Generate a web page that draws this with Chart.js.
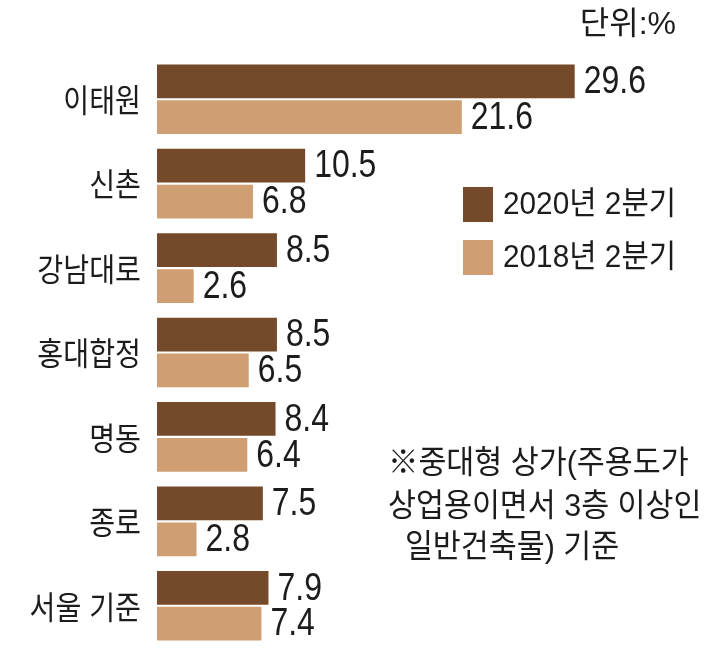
<!DOCTYPE html>
<html>
<head>
<meta charset="utf-8">
<script src="https://cdn.jsdelivr.net/npm/chart.js@4"></script>
<style>
  body { margin: 0; background: #fff; }
  #wrap { width: 712px; height: 648px; }
</style>
</head>
<body>
<div id="wrap"><canvas id="chart" width="712" height="648"></canvas></div>
<script>
// Chart data
const areas = ['이태원', '신촌', '강남대로', '홍대합정', '명동', '종로', '서울 기준'];
const seriesNames = ['2020년 2분기', '2018년 2분기'];
const vacancy2020 = [29.6, 10.5, 8.5, 8.5, 8.4, 7.5, 7.9];
const vacancy2018 = [21.6, 6.8, 2.6, 6.5, 6.4, 2.8, 7.4];
const unitText = '단위:%';
const noteLines = ['※중대형 상가(주용도가', '상업용이면서 3층 이상인', '  일반건축물) 기준'];

const darkBrown = '#744a2a';
const lightTan = '#cf9e72';
const textColor = '#1c1c1c';

// Draw text squeezed horizontally (the original uses a condensed face)
function drawText(ctx, text, x, y, size, sx, align) {
  ctx.save();
  ctx.font = size + 'px "Liberation Sans", "Noto Sans CJK KR", sans-serif';
  ctx.fillStyle = textColor;
  ctx.textBaseline = 'middle';
  ctx.textAlign = align;
  ctx.translate(x, y);
  ctx.scale(sx, 1);
  ctx.fillText(text, 0, 0);
  ctx.restore();
}

// Category labels, value labels, legend, unit and footnote
const labelPlugin = {
  id: 'labelPlugin',
  afterDatasetsDraw(chart) {
    const ctx = chart.ctx;
    const yScale = chart.scales.y;

    chart.data.labels.forEach(function (label, i) {
      drawText(ctx, label, 141, yScale.getPixelForValue(i) + 4, 32, 0.88, 'right');
    });

    chart.data.datasets.forEach(function (ds, d) {
      const meta = chart.getDatasetMeta(d);
      meta.data.forEach(function (bar, i) {
        drawText(ctx, ds.data[i].toFixed(1), bar.x + 9, bar.y + 1, 39, 0.82, 'left');
      });
    });

    // legend
    chart.data.datasets.forEach(function (ds, d) {
      const top = 187 + d * 53;
      ctx.fillStyle = ds.backgroundColor;
      ctx.fillRect(463, top, 30, 35);
      drawText(ctx, ds.label, 503, top + 18, 32, 0.93, 'left');
    });

    drawText(ctx, unitText, 676, 25, 32, 1.0, 'right');

    const noteY = [464, 507, 548];
    noteLines.forEach(function (line, i) {
      drawText(ctx, line, 388, noteY[i], 32, 0.95, 'left');
    });
  }
};

const config = {
  type: 'bar',
  data: {
    labels: areas,
    datasets: [
      { label: seriesNames[0], data: vacancy2020, backgroundColor: darkBrown },
      { label: seriesNames[1], data: vacancy2018, backgroundColor: lightTan }
    ]
  },
  options: {
    indexAxis: 'y',
    responsive: false,
    animation: false,
    devicePixelRatio: 1,
    layout: { padding: { left: 157, right: 47, top: 57, bottom: 0 } },
    categoryPercentage: 0.85,
    barPercentage: 0.94,
    scales: {
      x: { display: false, min: 0, max: 36 },
      y: { display: false }
    },
    plugins: {
      legend: { display: false },
      tooltip: { enabled: false }
    }
  },
  plugins: [labelPlugin]
};

const vacancyChart = new Chart(document.getElementById('chart'), config);
</script>
</body>
</html>
